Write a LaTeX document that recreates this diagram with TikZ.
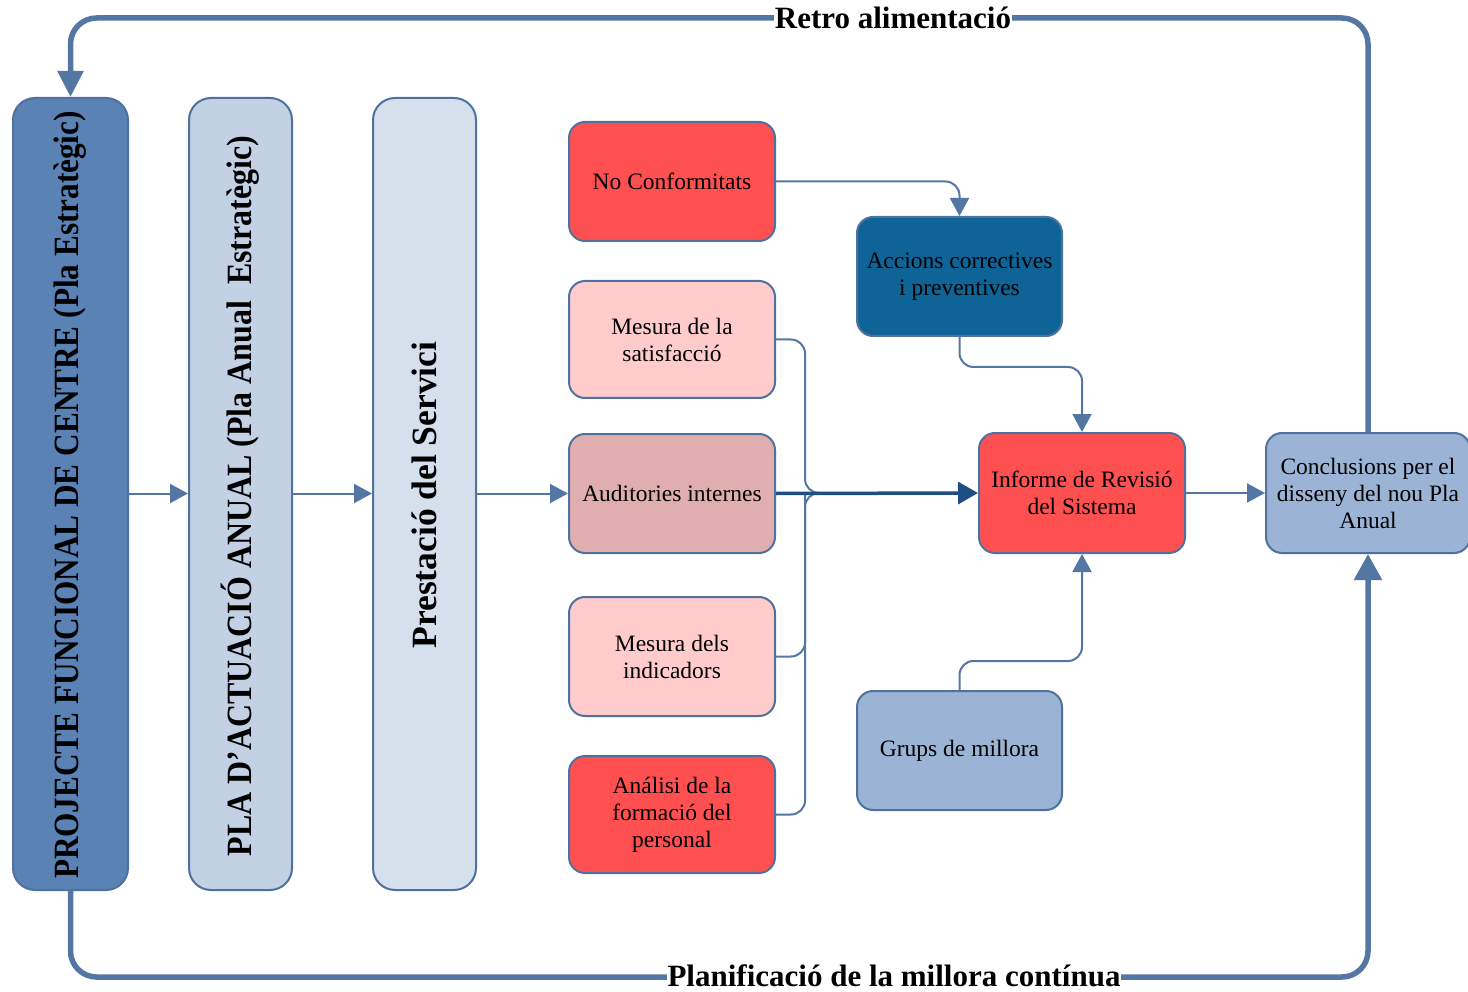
\documentclass[tikz,border=0pt]{standalone}
\usepackage{fontspec}
\setmainfont{Liberation Serif}
\usetikzlibrary{arrows.meta}
\definecolor{lineblue}{RGB}{84,118,162}
\definecolor{edgeblue}{RGB}{78,113,160}
\definecolor{darkline}{RGB}{31,78,133}
\definecolor{bOne}{RGB}{91,130,181}
\definecolor{bTwo}{RGB}{194,209,228}
\definecolor{bThree}{RGB}{213,224,236}
\definecolor{redbox}{RGB}{254,80,80}
\definecolor{pinkbox}{RGB}{255,203,203}
\definecolor{audbox}{RGB}{224,174,174}
\definecolor{accbox}{RGB}{14,99,151}
\definecolor{greybox}{RGB}{155,179,212}
\tikzset{
  box/.style={draw=edgeblue, line width=2pt, rounded corners=16pt, align=center,
    font=\fontsize{23.5}{27}\selectfont, inner sep=2pt},
  tallbox/.style={draw=edgeblue, line width=2pt, rounded corners=22pt},
  vtext/.style={rotate=90, font=\fontsize{35.5}{38}\selectfont\bfseries, inner sep=0pt},
  conn/.style={draw=lineblue, line width=2pt, rounded corners=14pt},
  smallarrow/.style={-{Triangle[width=19pt,length=18pt]}},
  loop/.style={draw=lineblue, line width=5.5pt, rounded corners=26pt},
  title/.style={fill=white, inner sep=1pt, font=\fontsize{31}{34}\selectfont\bfseries}
}
\begin{document}
\begin{tikzpicture}[x=1pt,y=-1pt]
\useasboundingbox (0,0) rectangle (1468,992);
% tall boxes
\node[tallbox, fill=bOne, minimum width=115pt, minimum height=792pt] (b1) at (70.5,494) {};
\node[tallbox, fill=bTwo, minimum width=103pt, minimum height=792pt] (b2) at (240.5,494) {};
\node[tallbox, fill=bThree, minimum width=103pt, minimum height=792pt] (b3) at (424.5,494) {};
\node[vtext] (t1) at (70,495) {\scalebox{0.88}[1]{PROJECTE FUNCIONAL DE CENTRE (Pla Estratègic)}};
\node[vtext] (t2) at (240,496) {\scalebox{0.9}[1]{PLA D'ACTUACIÓ ANUAL (Pla Anual\ \ Estratègic)}};
\node[vtext] (t3) at (424,495) {Prestació del Servici};
% middle boxes
\node[box, fill=redbox, minimum width=206pt, minimum height=119pt] (nc) at (672,181.5) {No Conformitats};
\node[box, fill=pinkbox, minimum width=206pt, minimum height=117pt] (sat) at (672,339.5) {Mesura de la\\satisfacció};
\node[box, fill=audbox, minimum width=206pt, minimum height=119pt] (aud) at (672,493.5) {Auditories internes};
\node[box, fill=pinkbox, minimum width=206pt, minimum height=119pt] (ind) at (672,656.5) {Mesura dels\\indicadors};
\node[box, fill=redbox, minimum width=206pt, minimum height=117pt] (ana) at (672,814.5) {Análisi de la\\formació del\\personal};
\node[box, fill=accbox, minimum width=205pt, minimum height=119pt] (acc) at (959.5,276.5) {Accions correctives\\i preventives};
\node[box, fill=redbox, minimum width=206pt, minimum height=120pt] (inf) at (1082,493) {Informe de Revisió\\del Sistema};
\node[box, fill=greybox, minimum width=205pt, minimum height=119pt] (grp) at (959.5,750.5) {Grups de millora};
\node[box, fill=greybox, minimum width=204pt, minimum height=120pt] (conc) at (1368,493) {Conclusions per el\\disseny del nou Pla\\Anual};
% coordinates
\coordinate (jx) at (805,493);
\coordinate (jm) at (824,493);
\coordinate (ya) at (0,367);
\coordinate (yg) at (0,661);
\coordinate (ytop) at (0,18);
\coordinate (ybot) at (0,977);
% simple arrows
\draw[conn, smallarrow] (b1.east |- aud) -- (b2.west |- aud);
\draw[conn, smallarrow] (b2.east |- aud) -- (b3.west |- aud);
\draw[conn, smallarrow] (b3.east |- aud) -- (aud.west);
\draw[conn, smallarrow] (nc.east) -| (acc.north);
\draw[conn, smallarrow] (acc.south) -- (acc.south |- ya) -| (inf.north);
\draw[conn, smallarrow] (grp.north) -- (grp.north |- yg) -| (inf.south);
\draw[conn, smallarrow] (inf.east) -- (conc.west);
% merge lines
\draw[conn] (sat.east) -| (jx) -- (jm);
\draw[conn] (ana.east) -| (jx) -- (jm);
\draw[conn] (ind.east) -| (jx);
\draw[draw=darkline, line width=3.5pt, -{Triangle[width=22pt,length=20pt]}] (aud.east) -- (inf.west);
% loops
\draw[loop, -{Triangle[width=25pt,length=26pt]}] (conc.north) -- (conc.north |- ytop) -| (b1.north);
\draw[loop, -{Triangle[width=27pt,length=26pt]}] (b1.south) -- (b1.south |- ybot) -| (conc.south);
\node[title] (retro) at (893,18) {Retro alimentació};
\node[title] (plan) at (894,976) {Planificació de la millora contínua};
\end{tikzpicture}
\end{document}
